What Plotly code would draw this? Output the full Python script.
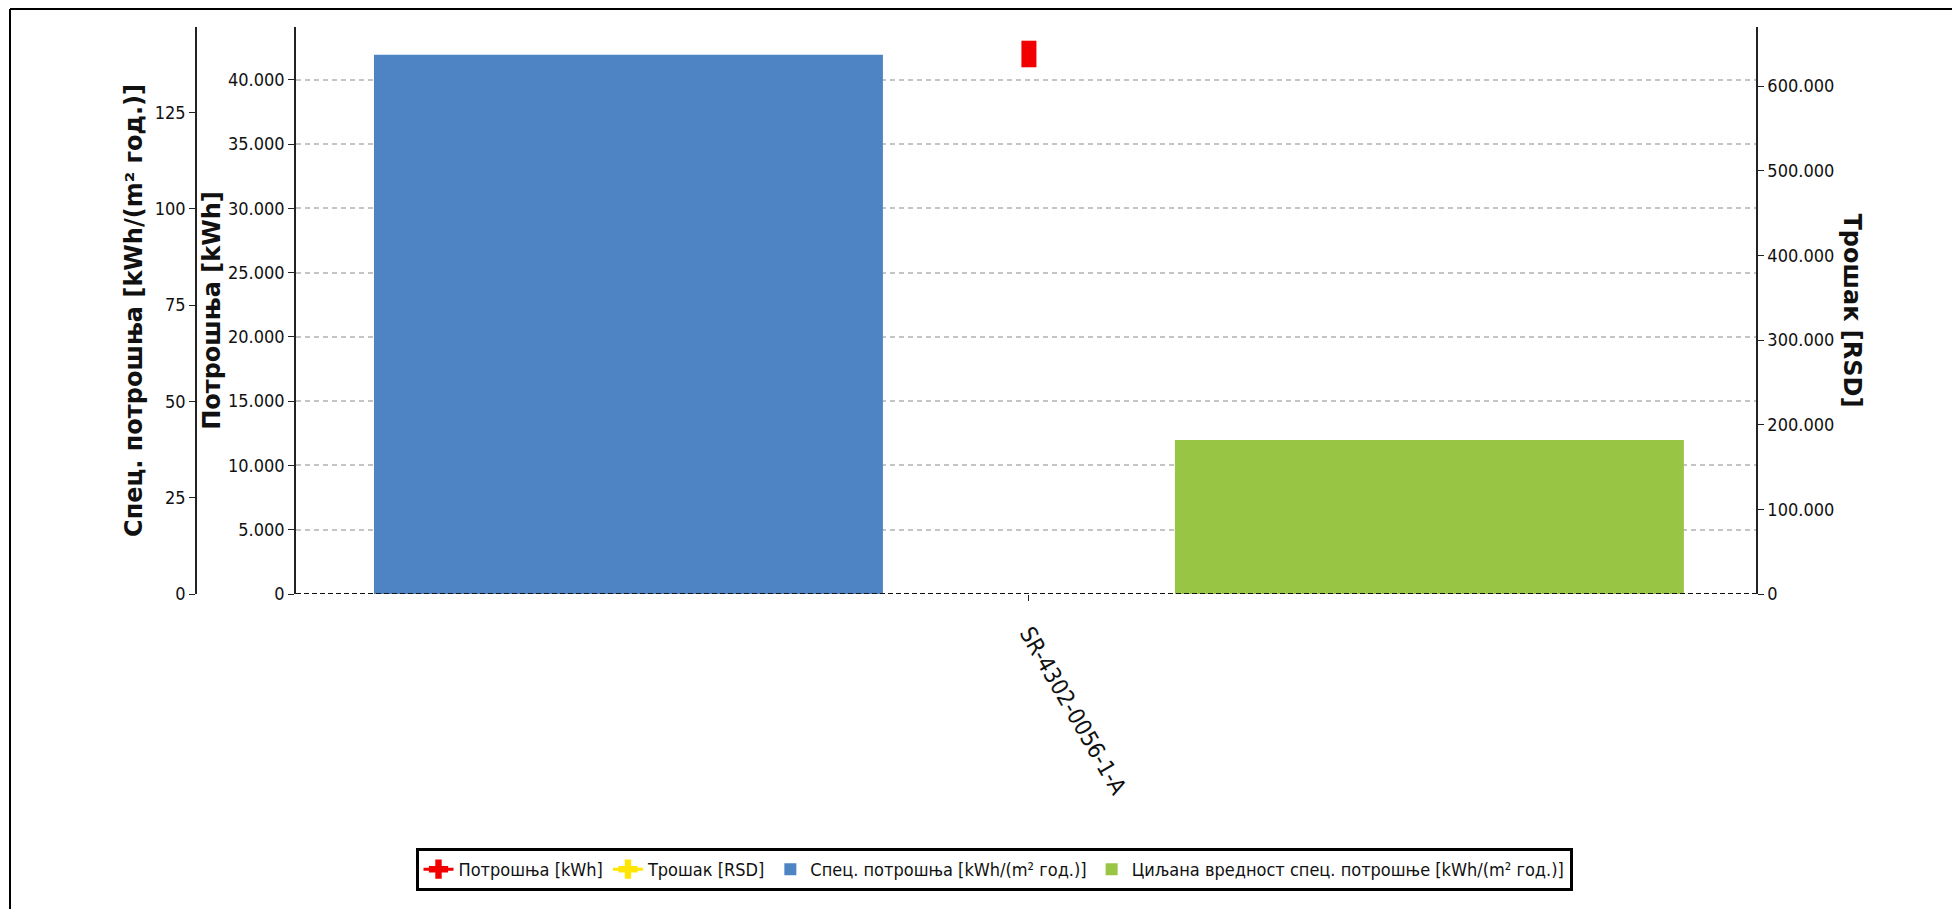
import plotly.graph_objects as go

W, H = 1960, 909

# ---- data ----
categories = ["SR-4302-0056-1-A"]
potrosnja_kwh = [42000]          # Потрошња [kWh]  (inner left axis)
trosak_rsd = [None]              # Трошак [RSD]    (right axis, no value shown)
spec_potrosnja = [140]           # Спец. потрошња [kWh/(m² год.)]
ciljana_spec = [40]              # Циљана вредност спец. потрошње

kwh_ticks = [0, 5000, 10000, 15000, 20000, 25000, 30000, 35000, 40000]
rsd_ticks = [0, 100000, 200000, 300000, 400000, 500000, 600000]
spec_ticks = [0, 25, 50, 75, 100, 125]


def fmt(v):
    return f"{v:,}".replace(",", ".")


# ---- layout geometry (pixels of the reference, page has an 8px body margin) ----
OFF = 8
PL, PR, PT, PB = 296 - OFF, 1756 - OFF, 27 - OFF, 594 - OFF
PW, PH = PR - PL, PB - PT


def px_x(p):            # reference page pixel -> paper x
    return (p - OFF) / W


def px_y(p):            # reference page pixel -> paper y
    return (PB - (p - OFF)) / PH


FONT = "DejaVu Sans Condensed, DejaVu Sans, sans-serif"
TFONT = "DejaVu Sans, sans-serif"
RED = "#f20000"
YELLOW = "#ffe500"
BLUE = "#4e84c4"
GREEN = "#98c543"

fig = go.Figure()

fig.add_trace(go.Scatter(
    x=categories, y=potrosnja_kwh, yaxis="y", mode="markers",
    name="Потрошња [kWh]", legendgroup="p", showlegend=False,
    marker=dict(symbol="line-ns", size=19, color=RED,
                line=dict(width=15, color=RED)),
))
fig.add_trace(go.Scatter(
    x=[None], y=[None], yaxis="y", mode="lines+markers",
    name="Потрошња [kWh]", legendgroup="p",
    line=dict(color=RED, width=3),
    marker=dict(symbol="cross", size=17, color=RED),
))
fig.add_trace(go.Scatter(
    x=categories, y=trosak_rsd, yaxis="y2", mode="lines+markers",
    name="Трошак [RSD]",
    line=dict(color=YELLOW, width=3),
    marker=dict(symbol="cross", size=17, color=YELLOW),
))
fig.add_trace(go.Bar(
    x=categories, y=spec_potrosnja, yaxis="y3",
    name="Спец. потрошња [kWh/(m² год.)]",
    width=0.3486, offset=-0.4486, marker=dict(color=BLUE, line=dict(width=0)),
))
fig.add_trace(go.Bar(
    x=categories, y=ciljana_spec, yaxis="y3",
    name="Циљана вредност спец. потрошње [kWh/(m² год.)]",
    width=0.3486, offset=0.1, marker=dict(color=GREEN, line=dict(width=0)),
))

axis_common = dict(
    showline=True, linecolor="#222", linewidth=1.5,
    ticks="outside", ticklen=6, tickcolor="#222", tickwidth=1.2,
    tickfont=dict(family=FONT, size=18, color="#111"),
    zeroline=False, automargin=False, fixedrange=True,
)

fig.update_layout(
    template="none",
    width=W, height=H,
    margin=dict(l=0, r=0, t=PT, b=H - PB, pad=0),
    paper_bgcolor="white", plot_bgcolor="white",
    barmode="overlay",
    showlegend=True,
    xaxis=dict(
        type="category", domain=[PL / W, PR / W], range=[-0.502, 0.498],
        showline=False, showgrid=False, zeroline=False,
        ticks="outside", ticklen=6, tickcolor="#222", tickwidth=1.2,
        tickangle=60, tickfont=dict(family=FONT, size=23, color="#111"),
        ticklabelstandoff=10,
        automargin=False, fixedrange=True,
    ),
    yaxis=dict(
        **axis_common, range=[0, 44100], side="left", anchor="x",
        tickvals=kwh_ticks, ticktext=[fmt(v) for v in kwh_ticks],
        showgrid=True, gridcolor="#c4c4c4", gridwidth=1.5, griddash="5px,4px",
        title=dict(text="<b>Потрошња [kWh]</b>",
                   font=dict(family=TFONT, size=24, color="#111"), standoff=1),
    ),
    yaxis2=dict(
        **axis_common, range=[0, 669700], side="right", overlaying="y", anchor="x",
        tickvals=rsd_ticks, ticktext=[fmt(v) for v in rsd_ticks],
        showgrid=False,
    ),
    yaxis3=dict(
        **axis_common, range=[0, 147.2], side="left", overlaying="y",
        anchor="free", position=px_x(196),
        tickvals=spec_ticks, ticktext=[fmt(v) for v in spec_ticks],
        showgrid=False,
        title=dict(text="<b>Спец. потрошња [kWh/(m² год.)]</b>",
                   font=dict(family=TFONT, size=24, color="#111"), standoff=4),
    ),
    legend=dict(
        orientation="h", x=px_x(994), xanchor="center",
        y=px_y(848), yanchor="top",
        bordercolor="#000", borderwidth=3, bgcolor="white",
        font=dict(family=FONT, size=18, color="#111"),
        traceorder="normal",
    ),
    annotations=[dict(
        text="<b>Трошак [RSD]</b>", xref="paper", yref="paper",
        x=px_x(1852), y=0.5, xanchor="center", yanchor="middle",
        textangle=90, showarrow=False,
        font=dict(family=TFONT, size=24, color="#111"),
    )],
    shapes=[
        dict(type="line", xref="x domain", yref="y", x0=0, x1=1, y0=0, y1=0,
             line=dict(color="#111", width=2, dash="5px,3px"), layer="above"),
        dict(type="line", xref="paper", yref="paper",
             x0=px_x(10), x1=px_x(2050), y0=px_y(9), y1=px_y(9),
             line=dict(color="#000", width=2), layer="above"),
        dict(type="line", xref="paper", yref="paper",
             x0=px_x(10), x1=px_x(10), y0=px_y(9), y1=px_y(1000),
             line=dict(color="#000", width=2), layer="above"),
    ],
)

fig.write_html("out.html")
